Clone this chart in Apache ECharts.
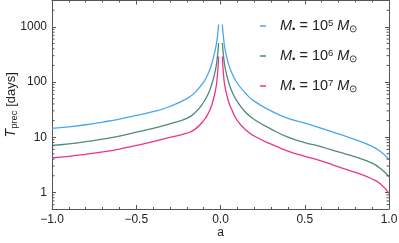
<!DOCTYPE html>
<html>
<head>
<meta charset="utf-8">
<script src="https://cdn.jsdelivr.net/npm/echarts@6/dist/echarts.min.js"></script>
<style>html,body{margin:0;padding:0;background:#fff;}#c{width:399px;height:243px;}</style>
</head>
<body>
<div id="c"></div>
<script>
// ---- data ----
const aLeft  = [-1, -0.9, -0.8, -0.7, -0.6, -0.5, -0.4, -0.3, -0.2, -0.15, -0.1, -0.07, -0.05, -0.03, -0.02, -0.011];
const aRight = [0.011, 0.02, 0.03, 0.05, 0.07, 0.1, 0.15, 0.2, 0.3, 0.4, 0.5, 0.6, 0.7, 0.8, 0.9, 0.95, 1];

const m5Left  = [14.4, 15.4, 16.8, 18.8, 21.3, 24.8, 29, 36, 50, 65, 100, 150, 225, 400, 600, 1100];
const m5Right = [1100, 550, 350, 200, 140, 95, 62, 45, 30, 22, 18, 14.5, 11.5, 9, 6.8, 5.5, 3.95];

const m6Left  = [7.1, 7.6, 8.3, 9.2, 10.5, 12.3, 14.5, 17.5, 22, 28, 43, 64, 95, 165, 260, 510];
const m6Right = [510, 260, 165, 95, 65, 44, 28, 21, 14, 10, 8.0, 6.7, 5.4, 4.4, 3.4, 2.7, 1.92];

const m7Left  = [4.2, 4.5, 4.9, 5.4, 6.1, 7.1, 8.3, 9.9, 11.8, 14, 20, 28, 40, 70, 115, 290];
const m7Right = [290, 115, 72, 42, 30, 20, 13.5, 10.5, 7.5, 5.6, 4.5, 3.7, 2.9, 2.3, 1.75, 1.42, 0.96];

const seriesNames = ['m5', 'm6', 'm7'];
const legendExps  = ['5', '6', '7'];
const xTicks = [-1, -0.5, 0, 0.5, 1];
const yTicks = [1, 10, 100, 1000];

// ---- chart ----
const colors = {m5: '#4ba6f0', m6: '#4f8a7a', m7: '#e8368c'};
const pair = (xs, ys) => xs.map((x, i) => [x, ys[i]]);
const dataSets = {
  m5: [pair(aLeft, m5Left), pair(aRight, m5Right)],
  m6: [pair(aLeft, m6Left), pair(aRight, m6Right)],
  m7: [pair(aLeft, m7Left), pair(aRight, m7Right)]
};

const frameColor = '#555';
const labelColor = '#222';
const font = 'Liberation Sans, Arial, sans-serif';

const series = [];
seriesNames.forEach(n => {
  dataSets[n].forEach(d => {
    series.push({
      type: 'line', name: n, data: d, xAxisIndex: 0, yAxisIndex: 0,
      showSymbol: false, smooth: 0.5,
      lineStyle: {color: colors[n], width: 1.3}, itemStyle: {color: colors[n]},
      silent: true, animation: false, clip: true
    });
  });
});

// minor ticks on log axes (values 2..9 per decade), placed through the axis scale
const minorVals = [];
for (let d = -1; d <= 3; d++) {
  for (let k = 2; k <= 9; k++) {
    const v = k * Math.pow(10, d);
    if (v > 0.5 && v < 3000) minorVals.push(v);
  }
}
series.push({
  type: 'custom', silent: true, animation: false, z: 10,
  xAxisIndex: 0, yAxisIndex: 0,
  data: minorVals.map(v => [-1, v]),
  renderItem: function (params, api) {
    const v = api.value(1);
    const pL = api.coord([-1, v]);
    const pR = api.coord([1, v]);
    const st = {stroke: frameColor, lineWidth: 1};
    return {
      type: 'group', children: [
        {type: 'line', shape: {x1: pL[0], y1: pL[1], x2: pL[0] + 2.5, y2: pL[1]}, style: st},
        {type: 'line', shape: {x1: pR[0], y1: pR[1], x2: pR[0] - 2.5, y2: pR[1]}, style: st}
      ]
    };
  }
});

const legendFmt = {};
seriesNames.forEach((n, i) => {
  legendFmt[n] = '{i|M}{sb|•} = 10{sp|' + legendExps[i] + '} {i|M}{sb|⊙}';
});

const axisLineStyle = {show: true, onZero: false, lineStyle: {color: frameColor, width: 1}};

const option = {
  animation: false,
  backgroundColor: '#fff',
  grid: {left: 52, right: 10, top: 0.5, bottom: 34, containLabel: false, outerBoundsMode: 'none'},
  legend: {
    data: seriesNames,
    orient: 'vertical', left: 255, top: 13,
    itemWidth: 6, itemHeight: 1.5, icon: 'rect', itemGap: 14,
    selectedMode: false,
    formatter: n => legendFmt[n],
    textStyle: {
      color: labelColor, fontFamily: font, fontSize: 14.5, padding: [0, 0, 0, 9],
      rich: {
        i: {fontStyle: 'italic', fontSize: 14.5, fontFamily: font, color: labelColor},
        sb: {fontSize: 9.5, verticalAlign: 'bottom', fontFamily: font, color: labelColor, padding: [6, 0, 0, 0]},
        sp: {fontSize: 9.5, verticalAlign: 'top', fontFamily: font, color: labelColor, padding: [0, 0, 6, 0]}
      }
    }
  },
  xAxis: [{
    type: 'value', min: -1, max: 1, interval: 0.5, position: 'bottom',
    axisLine: axisLineStyle,
    axisTick: {show: true, inside: true, length: 4, lineStyle: {color: frameColor}},
    minorTick: {show: true, splitNumber: 5, length: 2, lineStyle: {color: frameColor}},
    splitLine: {show: false},
    axisLabel: {color: labelColor, fontFamily: font, fontSize: 12, margin: 5,
      formatter: v => {
        const t = xTicks.find(x => Math.abs(x - v) < 1e-9);
        return t === undefined ? '' : (t < 0 ? '\u2212' : '') + Math.abs(t).toFixed(1);
      }},
    name: 'a', nameLocation: 'middle', nameGap: 18, nameMoveOverlap: false,
    nameTextStyle: {color: labelColor, fontFamily: font, fontSize: 12}
  }, {
    type: 'value', min: -1, max: 1, interval: 0.5, position: 'top',
    axisLine: axisLineStyle,
    axisTick: {show: true, inside: true, length: 4, lineStyle: {color: frameColor}},
    minorTick: {show: true, splitNumber: 5, length: 2, lineStyle: {color: frameColor}},
    splitLine: {show: false}, axisLabel: {show: false}
  }],
  yAxis: [{
    type: 'log', min: 0.5, max: 3000, logBase: 10, position: 'left',
    axisLine: axisLineStyle,
    axisTick: {show: true, inside: true, length: 4, lineStyle: {color: frameColor}},
    splitLine: {show: false},
    axisLabel: {color: labelColor, fontFamily: font, fontSize: 12, margin: 5,
      showMinLabel: false, showMaxLabel: false,
      formatter: v => {
        const t = yTicks.find(y => Math.abs(y - v) / y < 1e-6);
        return t === undefined ? '' : String(t);
      }},
    name: '{it|T}{sub|prec} [days]', nameLocation: 'middle', nameRotate: 90, nameGap: 33,
    nameMoveOverlap: false,
    nameTextStyle: {
      color: labelColor, fontFamily: font, fontSize: 13,
      rich: {
        it: {fontStyle: 'italic', fontSize: 14, fontFamily: font, color: labelColor},
        sub: {fontSize: 9.5, fontFamily: font, color: labelColor, verticalAlign: 'bottom', padding: [6, 0, 0, 0]}
      }
    }
  }, {
    type: 'log', min: 0.5, max: 3000, logBase: 10, position: 'right',
    axisLine: axisLineStyle,
    axisTick: {show: true, inside: true, length: 4, lineStyle: {color: frameColor}},
    splitLine: {show: false}, axisLabel: {show: false}
  }],
  series: series
};

const chart = echarts.init(document.getElementById('c'), null, {renderer: 'canvas'});
chart.setOption(option);
</script>
</body>
</html>
